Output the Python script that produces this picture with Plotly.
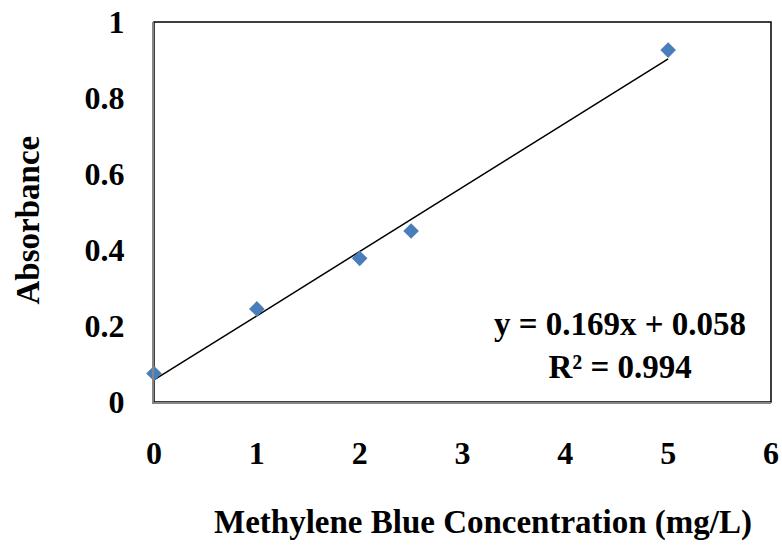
import plotly.graph_objects as go

# Calibration data: methylene blue concentration vs. absorbance
concentration = [0, 1, 2, 2.5, 5]
absorbance = [0.075, 0.245, 0.378, 0.450, 0.926]

# Linear fit reported on the chart
slope = 0.169
intercept = 0.058
r_squared = 0.994
fit_x = [0, 5]
fit_y = [slope * x + intercept for x in fit_x]

x_ticks = [0, 1, 2, 3, 4, 5, 6]
y_ticks = [0, 0.2, 0.4, 0.6, 0.8, 1]

FONT = "Liberation Serif, Times New Roman, serif"
BOLD = dict(family=FONT, color="black", weight="bold")

fig = go.Figure()
fig.add_trace(go.Scatter(
    x=fit_x, y=fit_y, mode="lines",
    line=dict(color="black", width=1.5),
    showlegend=False, hoverinfo="skip",
))
fig.add_trace(go.Scatter(
    x=concentration, y=absorbance, mode="markers",
    marker=dict(symbol="diamond", size=12, color="#4a7ebb"),
    showlegend=False, cliponaxis=False,
))

fig.add_annotation(
    x=0.755, y=0.15, xref="paper", yref="paper",
    xanchor="center", yanchor="middle",
    text=f"y = {slope}x + {intercept}<br>R² = {r_squared}",
    showarrow=False, align="center",
    font=dict(BOLD, size=33),
)

# axis titles
fig.add_annotation(
    x=0.533, y=-0.318, xref="paper", yref="paper",
    xanchor="center", yanchor="middle",
    text="Methylene Blue Concentration (mg/L)", showarrow=False,
    font=dict(BOLD, size=33),
)
fig.add_annotation(
    x=-0.205, y=0.479, xref="paper", yref="paper",
    xanchor="center", yanchor="middle",
    text="Absorbance", textangle=-90, showarrow=False,
    font=dict(BOLD, size=33),
)

# plot-area border (top/right darker than the axis lines)
fig.add_shape(type="rect", xref="paper", yref="paper", x0=0, y0=0, x1=1, y1=1,
              line=dict(color="black", width=1.5), layer="below")

fig.update_layout(
    width=782, height=545,
    margin=dict(l=154, r=11, t=22, b=143),
    paper_bgcolor="white", plot_bgcolor="white",
    font=dict(BOLD, size=32),
    xaxis=dict(
        range=[0, 6], tickvals=x_ticks, showgrid=False, zeroline=False,
        showline=True, linecolor="#868686", linewidth=2, ticks="",
        ticklabelstandoff=22, automargin=False,
    ),
    yaxis=dict(
        range=[0, 1], tickvals=y_ticks, showgrid=False, zeroline=False,
        showline=True, linecolor="#868686", linewidth=2, ticks="",
        ticklabelstandoff=21, automargin=False,
    ),
)

fig.write_html("out.html")
